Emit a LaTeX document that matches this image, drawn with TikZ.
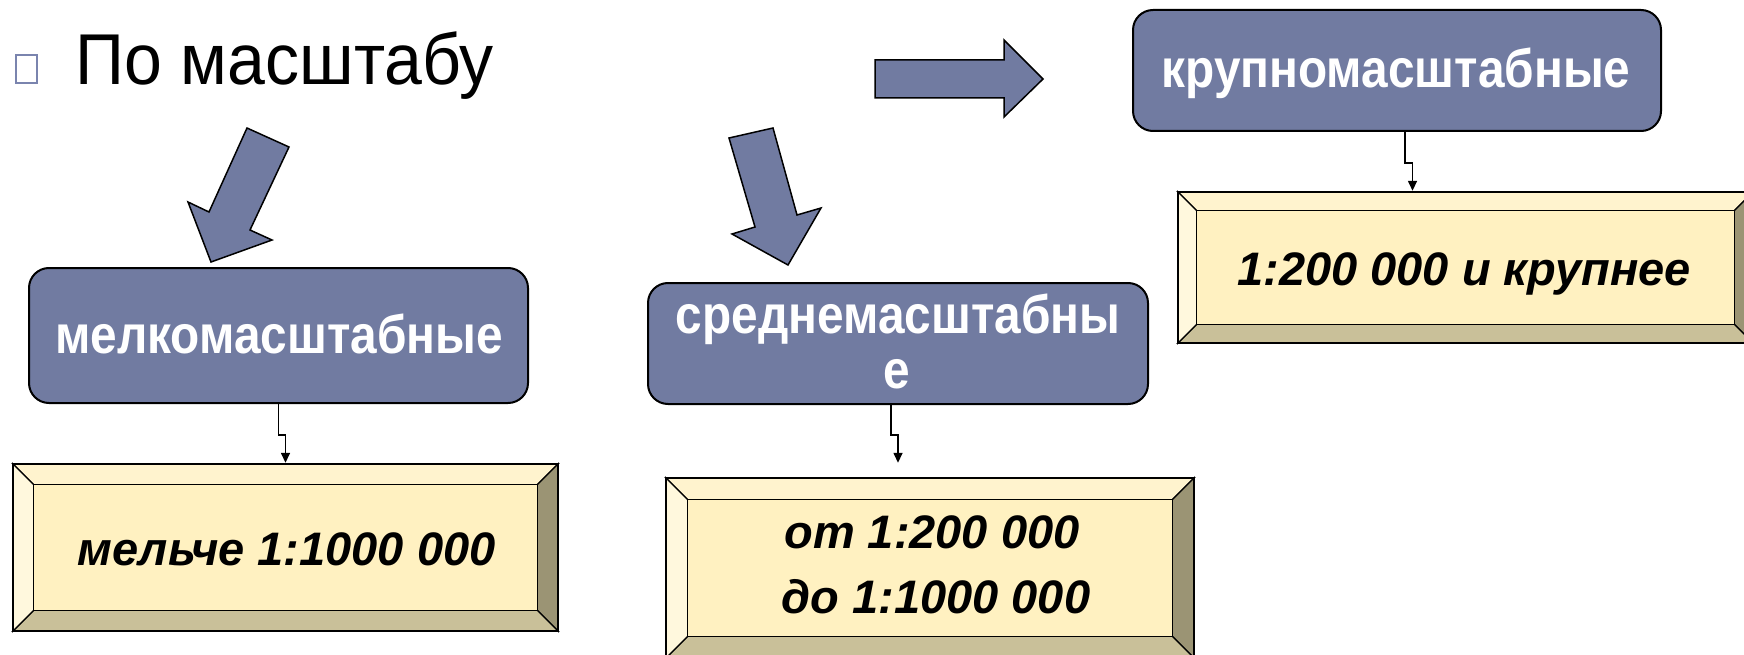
\documentclass[tikz,border=0pt]{standalone}
\usepackage{graphicx}
\usepackage{fontspec}
\setmainfont{Liberation Sans}
\usetikzlibrary{arrows.meta,calc}
\definecolor{boxblue}{HTML}{717BA1}
\definecolor{face}{HTML}{FFF1C1}
\definecolor{bevtop}{HTML}{FFF3CE}
\definecolor{bevleft}{HTML}{FFF8DD}
\definecolor{bevright}{HTML}{9B9474}
\definecolor{bevbot}{HTML}{C9C099}
\definecolor{bulletcol}{HTML}{7A84AE}
\newcommand{\narrow}[2]{\scalebox{#1}[1]{#2}}
\tikzset{
  catbox/.style={draw=black, line width=2pt, fill=boxblue, rounded corners=20pt, inner sep=0pt},
  geobox/.style={inner sep=0pt, draw=none},
  cattext/.style={anchor=base, inner sep=0pt, text=white, font=\fontsize{54}{60}\selectfont\bfseries},
  valtext/.style={anchor=base, inner sep=0pt, text=black, font=\fontsize{47}{65}\selectfont\bfseries\itshape},
  blockarrow/.style={draw=black, line width=1.5pt, fill=boxblue, line join=miter},
  conn/.style={draw=black, line width=1.5pt, -{Triangle[width=9pt,length=10pt]}},
  bevline/.style={draw=black, line width=1.3pt, line join=miter},
}
\newcommand{\bevelfor}[2]{%
  \coordinate (A) at (#1.north west);
  \coordinate (B) at (#1.north east);
  \coordinate (C) at (#1.south east);
  \coordinate (D) at (#1.south west);
  \coordinate (a) at ($(A)+(#2,#2)$);
  \coordinate (b) at ($(B)+(-#2,#2)$);
  \coordinate (c) at ($(C)+(-#2,-#2)$);
  \coordinate (d) at ($(D)+(#2,-#2)$);
  \filldraw[bevline, fill=bevtop] (A) -- (B) -- (b) -- (a) -- cycle;
  \filldraw[bevline, fill=bevright] (B) -- (C) -- (c) -- (b) -- cycle;
  \filldraw[bevline, fill=bevbot] (C) -- (D) -- (d) -- (c) -- cycle;
  \filldraw[bevline, fill=bevleft] (D) -- (A) -- (a) -- (d) -- cycle;
  \filldraw[bevline, fill=face] (a) -- (b) -- (c) -- (d) -- cycle;
  \draw[line width=2.4pt, line join=miter] (A) rectangle (C);
}
\begin{document}
\begin{tikzpicture}[x=1pt,y=-1pt]
\useasboundingbox (0,0) rectangle (1744,655);
\clip (0,0) rectangle (1744,655);

% title
\draw[bulletcol, line width=1.5pt] (16,55) rectangle (37,83);
\node[anchor=base west, inner sep=0pt, font=\fontsize{72}{84}\selectfont] (title) at (75,85) {\narrow{0.945}{По масштабу}};

% category boxes
\node[catbox, minimum width=499pt, minimum height=135pt] (b1) at (278.5,335.5) {};
\node[catbox, minimum width=500pt, minimum height=121pt] (b3) at (898,343.5) {};
\node[catbox, minimum width=528pt, minimum height=121pt] (b5) at (1397,70.5) {};

% value boxes
\node[geobox, minimum width=545pt, minimum height=167pt] (b2) at (285.5,547.5) {};
\node[geobox, minimum width=528pt, minimum height=180pt] (b4) at (930,568) {};
\node[geobox, minimum width=575pt, minimum height=151pt] (b6) at (1465.5,267.5) {};
\bevelfor{b2}{21}
\bevelfor{b4}{22}
\bevelfor{b6}{19}

% texts
\node[cattext] (t1) at (279,353) {\narrow{0.885}{мелкомасштабные}};
\node[cattext] (t3a) at (898,333) {\narrow{0.885}{среднемасштабны}};
\node[cattext] (t3b) at (897,388) {\narrow{0.885}{е}};
\node[cattext] (t5) at (1396,88) {\narrow{0.885}{крупномасштабные}};
\node[valtext] (t2) at (286.5,565) {мельче 1:1000 000};
\node[valtext] (t4a) at (932,548) {от 1:200 000};
\node[valtext] (t4b) at (936,613) {до 1:1000 000};
\node[valtext] (t6) at (1464,285) {1:200 000 и крупнее};

% block arrows
\filldraw[blockarrow] (247,128) -- (289,147) -- (250,230) -- (272,240) -- (211,262) -- (188,202) -- (209,212) -- cycle;
\filldraw[blockarrow] (729,138) -- (773,128) -- (797,215) -- (821,208) -- (788,265) -- (732,234) -- (755,227) -- cycle;
\filldraw[blockarrow] (875,60) -- (1004,60) -- (1004,40) -- (1043,79) -- (1004,117) -- (1004,98) -- (875,98) -- cycle;

% connectors
\draw[conn] (b1.south) -- ++(0,31) -| ($(b2.north)+(0,-1)$);
\draw[conn] ($(b3.south)+(-7,0)$) -- ++(0,30) -| ($(b4.north)+(-32,-15)$);
\draw[conn] ($(b5.south)+(8,0)$) -- ++(0,31) -| ($(b6.north)+(-53,-1)$);
\end{tikzpicture}
\end{document}
